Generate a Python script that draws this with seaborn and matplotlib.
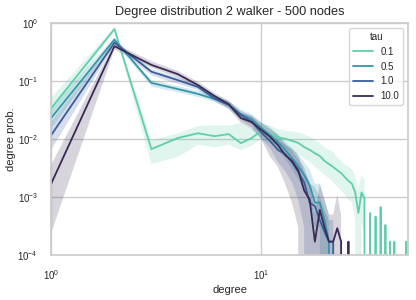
import seaborn as sns
import pandas as pd
import matplotlib.pyplot as plt

taus = ['0.1', '0.5', '1.0', '10.0']

# mean degree probability per degree (degree = 1, 2, 3, ...), with CI bands
mean_01 = [0.034, 0.79, 0.0067, 0.0104, 0.0126, 0.0112, 0.0122, 0.0085, 0.0104, 0.0138,
           0.0122, 0.0108, 0.0101, 0.0093, 0.0086, 0.0073, 0.0065, 0.0057, 0.0051, 0.0042,
           0.0037, 0.0033, 0.0029, 0.0026, 0.0022, 0.0019, 0.0017, 0.0012, 0.00053, 0.0012,
           0.00096, 0, 0.00053, 0, 0.00046, 0, 0.00067, 0, 0.00033, 0,
           0.00017, 0, 0.00017, 0, 0, 0, 0, 0, 0.00017, 0]
lo_01 = [0.022, 0.74, 0.0037, 0.0049, 0.0079, 0.0072, 0.0080, 0.0065, 0.0076, 0.0100,
         0.0085, 0.0075, 0.0070, 0.0060, 0.0055, 0.0047, 0.0040, 0.0034, 0.0028, 0.0024,
         0.0021, 0.0018, 0.0015, 0.0013, 0.0011, 0.0009, 0.0008, 0.0004, 0, 0.0004,
         0.0002, 0, 0, 0, 0, 0, 0, 0, 0, 0,
         0, 0, 0, 0, 0, 0, 0, 0, 0, 0]
hi_01 = [0.052, 0.84, 0.0095, 0.0125, 0.0167, 0.0172, 0.0170, 0.0190, 0.0150, 0.0180,
         0.0170, 0.0150, 0.0140, 0.0135, 0.0130, 0.0120, 0.0110, 0.0095, 0.0085, 0.0072,
         0.0065, 0.0060, 0.0048, 0.0042, 0.0036, 0.0033, 0.0030, 0.0024, 0.0013, 0.0024,
         0.0020, 0, 0.0014, 0, 0.0012, 0, 0.0016, 0, 0.0009, 0,
         0.0005, 0, 0.0005, 0, 0, 0, 0, 0, 0.0005, 0]

mean_05 = [0.023, 0.52, 0.093, 0.073, 0.060, 0.049, 0.039, 0.027, 0.022, 0.0155,
           0.0117, 0.0089, 0.0065, 0.0047, 0.0034, 0.0024, 0.0016, 0.0008, 0.0008, 0.0004,
           0.00017, 0]
lo_05 = [0.015, 0.47, 0.080, 0.064, 0.053, 0.044, 0.034, 0.023, 0.018, 0.012,
         0.009, 0.0065, 0.0045, 0.003, 0.002, 0.0013, 0.0008, 0.0003, 0.0003, 0,
         0, 0]
hi_05 = [0.035, 0.57, 0.105, 0.082, 0.068, 0.056, 0.045, 0.032, 0.027, 0.020,
         0.016, 0.012, 0.009, 0.007, 0.0055, 0.004, 0.003, 0.0017, 0.0017, 0.0009,
         0.0005, 0]

mean_1 = [0.0117, 0.46, 0.145, 0.104, 0.079, 0.050, 0.039, 0.026, 0.020, 0.013,
          0.0093, 0.0065, 0.0055, 0.004, 0.0027, 0.0018, 0.0008, 0.0007, 0.0004, 0.00025,
          0.00017, 0.00017, 0]
lo_1 = [0.0065, 0.42, 0.125, 0.090, 0.070, 0.044, 0.033, 0.021, 0.016, 0.010,
        0.007, 0.004, 0.0028, 0.0018, 0.0009, 0.0003, 0, 0, 0, 0,
        0, 0, 0]
hi_1 = [0.020, 0.50, 0.16, 0.115, 0.088, 0.057, 0.045, 0.031, 0.025, 0.017,
        0.012, 0.0095, 0.0082, 0.0062, 0.0045, 0.0033, 0.0017, 0.0015, 0.001, 0.0006,
        0.0004, 0.0004, 0]

mean_10 = [0.0017, 0.40, 0.19, 0.132, 0.085, 0.055, 0.040, 0.023, 0.0196, 0.0144,
           0.011, 0.0079, 0.0053, 0.0042, 0.0029, 0.0013, 0.0009, 0.00017, 0.0006, 0.0003,
           0.00017, 0.00017, 0.00029, 0.00017, 0, 0.00017, 0]
lo_10 = [0.00024, 0.35, 0.17, 0.115, 0.075, 0.048, 0.034, 0.019, 0.015, 0.010,
         0.005, 0.0033, 0.0017, 0.0008, 0.0003, 0, 0, 0, 0, 0,
         0, 0, 0, 0, 0, 0, 0]
hi_10 = [0.0036, 0.45, 0.22, 0.15, 0.097, 0.062, 0.046, 0.028, 0.025, 0.019,
         0.015, 0.012, 0.008, 0.0068, 0.0052, 0.0027, 0.0018, 0.0005, 0.0017, 0.0009,
         0.0005, 0.0005, 0.0011, 0.0005, 0, 0.0005, 0]

means = [mean_01, mean_05, mean_1, mean_10]
lows = [lo_01, lo_05, lo_1, lo_10]
highs = [hi_01, hi_05, hi_1, hi_10]

rows = []
for t, m in zip(taus, means):
    for i, v in enumerate(m):
        rows.append({'degree': i + 1, 'prob': v, 'tau': t})
df = pd.DataFrame(rows)

sns.set_theme(style='whitegrid')
plt.rcParams['font.family'] = ['Liberation Sans', 'DejaVu Sans']

fig, ax = plt.subplots(figsize=(4.16, 3.0), dpi=100)
pal = sns.color_palette('mako_r', len(taus))

sns.lineplot(data=df, x='degree', y='prob', hue='tau', hue_order=taus,
             palette=pal, errorbar=None, linewidth=1.3, ax=ax)
for c, m, lo, hi in zip(pal, means, lows, highs):
    deg = list(range(1, len(m) + 1))
    ax.fill_between(deg, lo, hi, color=c, alpha=0.2, linewidth=0, zorder=1)

ax.set_xscale('log')
ax.set_yscale('log')
ax.set_xlim(1, 50)
ax.set_ylim(1e-4, 1)
ax.set_title('Degree distribution 2 walker - 500 nodes', fontsize=9.2)
ax.set_xlabel('degree', fontsize=8, labelpad=2)
ax.set_ylabel('degree prob.', fontsize=8, labelpad=1)
ax.tick_params(labelsize=7)
ax.legend(title='tau', loc='upper right', fontsize=7, title_fontsize=7)

fig.subplots_adjust(left=0.123, right=0.981, top=0.923, bottom=0.15)
plt.savefig('out.png')
